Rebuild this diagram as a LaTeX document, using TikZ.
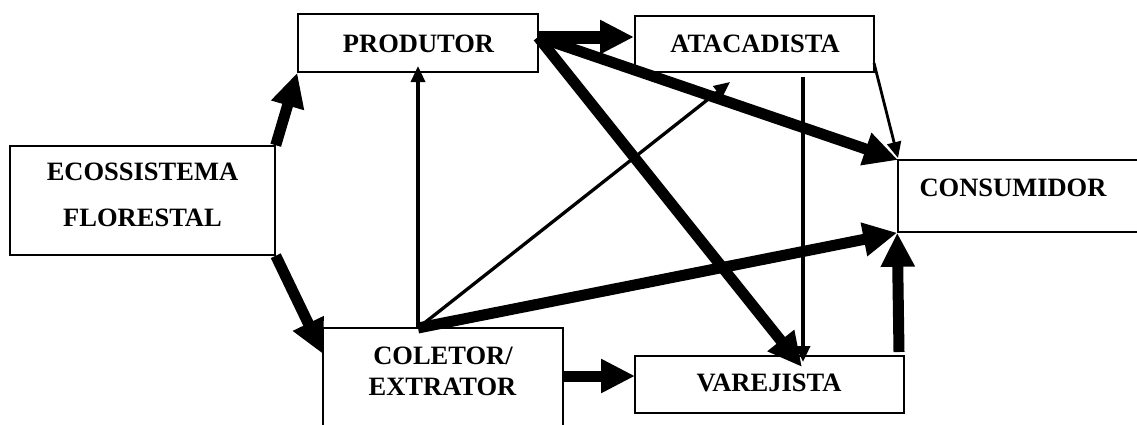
\documentclass[tikz,border=0pt]{standalone}
\usepackage{fontspec}
\setmainfont{Liberation Serif}
\usetikzlibrary{arrows.meta}
\tikzset{
  boxnode/.style={draw=black, line width=1.5pt, rectangle, inner sep=0pt},
  lbl/.style={font=\fontsize{26.5}{28}\selectfont\bfseries, anchor=base, inner sep=0pt},
  thickarr/.style={line width=11pt, -{Triangle[length=34pt,width=32pt]}},
  thinarr/.style={line width=3.3pt, -{Triangle[length=16pt,width=14pt]}}
}
\begin{document}
\begin{tikzpicture}[x=1pt,y=-1pt]
\useasboundingbox (0,0) rectangle (1137,424);
\clip (0,0) rectangle (1137,424);
% boxes
\node[boxnode, minimum width=265pt, minimum height=109pt] (eco) at (142.5,200.5) {};
\node[boxnode, minimum width=240pt, minimum height=58pt] (prod) at (418,43) {};
\node[boxnode, minimum width=239pt, minimum height=56pt] (atac) at (754.5,44) {};
\node[boxnode, minimum width=260pt, minimum height=72pt] (cons) at (1028,196) {};
\node[boxnode, minimum width=240pt, minimum height=140pt] (col) at (443,398) {};
\node[boxnode, minimum width=269pt, minimum height=57pt] (var) at (769.5,384.5) {};
% labels
\node[lbl] (t1) at (142.5,180) {ECOSSISTEMA};
\node[lbl] (t2) at (142.5,226.7) {FLORESTAL};
\node[lbl] (t3) at (418.5,52) {PRODUTOR};
\node[lbl] (t4) at (755,52) {ATACADISTA};
\node[lbl] (t5) at (1013,196.7) {CONSUMIDOR};
\node[lbl] (t6) at (443,364) {COLETOR/};
\node[lbl] (t7) at (442.5,395) {EXTRATOR};
\node[lbl] (t8) at (769,391.7) {VAREJISTA};
% points
\coordinate (ps) at (538,37);
\coordinate (c0) at (418,328);
\coordinate (colL) at (323,354);
\coordinate (prodB) at (418,66);
\coordinate (atacB) at (730,82);
\coordinate (colR) at (563,376);
\coordinate (varL) at (635,376);
\coordinate (varT) at (802,367);
\coordinate (atacV) at (803,77);
\coordinate (varTT) at (803,362);
\coordinate (varR) at (899,352);
\coordinate (atacR) at (874,63);
\coordinate (consTL) at (898,158);
\coordinate (consT) at (898,160);
\coordinate (atacW) at (634,37);
% connectors
\draw[thickarr] (eco.north east) -- (prod.south west);
\draw[thickarr] (eco.south east) -- (colL);
\draw[thickarr, line width=13pt] (ps) -- (atacW);
\draw[thickarr] (ps) -- (consT);
\draw[thickarr] (ps) -- (varT);
\draw[thinarr] (c0) -- (prodB);
\draw[thinarr] (c0) -- (atacB);
\draw[thickarr] (c0) -- (cons.south west);
\draw[thickarr] (colR) -- (varL);
\draw[thinarr] (atacV) -- (varTT);
\draw[thickarr] (varR) -- (cons.south west);
\draw[thinarr, line width=2.8pt] (atacR) -- (consTL);
\end{tikzpicture}
\end{document}
